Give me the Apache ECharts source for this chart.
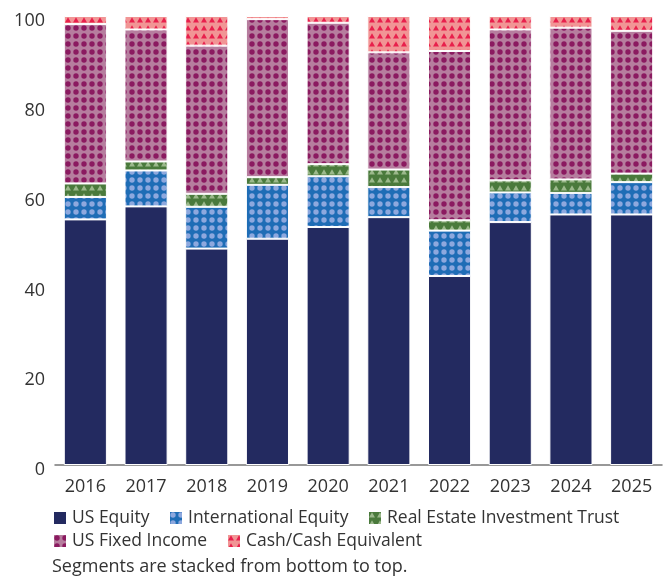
<!DOCTYPE html>
<html>
<head>
<meta charset="utf-8">
<script src="https://cdn.jsdelivr.net/npm/echarts@6/dist/echarts.min.js"></script>
<style>
  html, body { margin: 0; padding: 0; background: #fff; }
  #chart { width: 670px; height: 578px; }
</style>
</head>
<body>
<div id="chart"></div>
<script>
// 数据
var years = ["2016", "2017", "2018", "2019", "2020", "2021", "2022", "2023", "2024", "2025"];
var usEquity = [54.7, 57.6, 48.2, 50.4, 53.0, 55.2, 42.1, 54.1, 55.8, 55.8];
var intlEquity = [5.0, 8.0, 9.3, 12.0, 11.3, 6.7, 10.1, 6.6, 4.8, 7.2];
var reit = [3.0, 2.0, 2.9, 1.7, 2.7, 3.9, 2.3, 2.7, 3.0, 1.9];
var usFixed = [35.5, 29.4, 33.0, 35.2, 31.5, 26.1, 37.7, 33.6, 33.8, 31.8];
var cash = [1.8, 3.0, 6.6, 0.7, 1.5, 8.1, 7.8, 3.0, 2.6, 3.3];
var yTicks = [0, 20, 40, 60, 80, 100];

// 图案填充
function dots(bg, fg, r) {
  var c = document.createElement("canvas");
  c.width = 8; c.height = 8;
  var ctx = c.getContext("2d");
  ctx.fillStyle = bg; ctx.fillRect(0, 0, 8, 8);
  ctx.fillStyle = fg;
  ctx.beginPath(); ctx.arc(4, 4, r, 0, Math.PI * 2); ctx.fill();
  return { image: c, repeat: "repeat" };
}
function triangles(bg, fg) {
  var c = document.createElement("canvas");
  c.width = 8; c.height = 8;
  var ctx = c.getContext("2d");
  ctx.fillStyle = bg; ctx.fillRect(0, 0, 8, 8);
  ctx.fillStyle = fg;
  ctx.beginPath(); ctx.moveTo(4, 1.2); ctx.lineTo(7, 6.6); ctx.lineTo(1, 6.6); ctx.closePath(); ctx.fill();
  return { image: c, repeat: "repeat" };
}

var font = "Open Sans";
var textColor = "#333";
var chart = echarts.init(document.getElementById("chart"));

function bar(name, data, color) {
  return {
    name: name,
    type: "bar",
    stack: "total",
    data: data,
    barCategoryGap: "29%",
    itemStyle: { color: color, borderColor: "#fff", borderWidth: 1 },
    emphasis: { disabled: true }
  };
}

function legendItem(name, left, top) {
  return {
    data: [name],
    left: left, top: top, padding: 0,
    itemWidth: 14, itemHeight: 14, itemGap: 0,
    icon: "rect",
    textStyle: { color: textColor, fontSize: 17.5, fontFamily: font }
  };
}

var option = {
  animation: false,
  textStyle: { fontFamily: font },
  grid: { left: 55, right: 8, top: 16, bottom: 113 },
  xAxis: {
    type: "category",
    data: years,
    axisLine: { lineStyle: { color: "#777", width: 1.5 } },
    axisTick: { show: false },
    axisLabel: { color: textColor, fontSize: 18, margin: 13, fontFamily: font }
  },
  yAxis: {
    type: "value",
    min: 0,
    max: 100,
    interval: 20,
    splitLine: { show: false },
    axisLine: { show: false },
    axisTick: { show: false },
    axisLabel: {
      color: textColor, fontSize: 18, margin: 10, fontFamily: font,
      verticalAlign: "top", lineHeight: 10,
      formatter: function (v) { return yTicks.indexOf(v) >= 0 ? String(v) : ""; }
    }
  },
  legend: [
    legendItem("US Equity", 52, 509),
    legendItem("International Equity", 168, 509),
    legendItem("Real Estate Investment Trust", 367, 509),
    legendItem("US Fixed Income", 52, 532),
    legendItem("Cash/Cash Equivalent", 226, 532)
  ],
  graphic: [{
    type: "text",
    left: 52, top: 558,
    style: { text: "Segments are stacked from bottom to top.", fill: textColor, fontSize: 18, fontFamily: font }
  }],
  series: [
    bar("US Equity", usEquity, "#232a60"),
    bar("International Equity", intlEquity, dots("#1f6db6", "#8da8de", 2.7)),
    bar("Real Estate Investment Trust", reit, triangles("#4a7a3c", "#9cb98c")),
    bar("US Fixed Income", usFixed, dots("#b67d9e", "#8b1a60", 2.7)),
    bar("Cash/Cash Equivalent", cash, triangles("#f19595", "#e8204c"))
  ]
};

option && chart.setOption(option);
</script>
</body>
</html>
